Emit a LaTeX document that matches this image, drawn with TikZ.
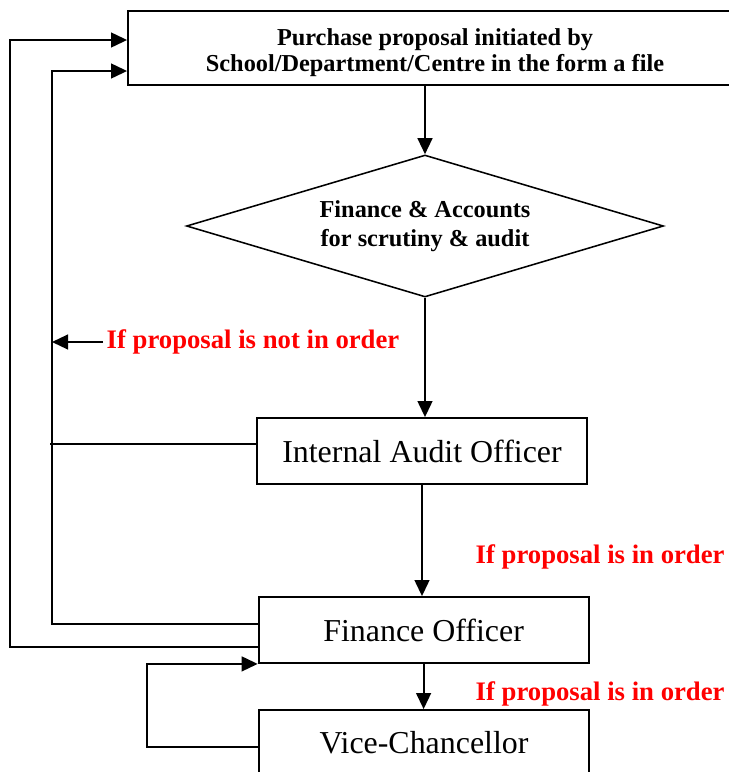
\documentclass[tikz,border=0pt]{standalone}
\usepackage{fontspec}
\setmainfont{Liberation Serif}
\usepackage{xcolor}
\usepackage{tikz}
\usetikzlibrary{positioning,arrows.meta,shapes.geometric,calc}

\begin{document}
\begin{tikzpicture}[
    >={Triangle[length=0.4cm,width=0.37cm]},
    line width=1.3pt,
    office/.style={rectangle, draw, minimum width=8.25cm, minimum height=1.65cm, font=\fontsize{22.7}{26}\selectfont},
    topbox/.style={rectangle, draw, minimum width=15.35cm, minimum height=1.85cm, align=center, font=\fontsize{17.3}{18.5}\selectfont\bfseries},
    decision/.style={diamond, draw, line width=1.1pt, aspect=3.36, minimum width=11.925cm, minimum height=3.55cm, inner sep=0pt, align=center, font=\fontsize{17.3}{20.5}\selectfont\bfseries},
    note/.style={font=\fontsize{19}{22}\selectfont\bfseries, text=red, inner sep=2pt, anchor=west}
]
\useasboundingbox (0,0) rectangle (18.2,-19.3);

% === Main column ===
\node[topbox] (top) at (10.875, -1.2) {\rule{0pt}{19pt}Purchase proposal initiated by\\School/Department/Centre in the form a file};
\node[decision] (dia) at (10.625, -5.65) {Finance \& Accounts\\for scrutiny \& audit};
\node[office] (iao) at (10.55, -11.275) {Internal Audit Officer};
\node[office] (fo) at (10.59, -15.75) {Finance Officer};
\node[office] (vc) at (10.6, -18.575) {Vice-Chancellor};

% Arrows down the column
\draw[->] (top.south -| dia.north) -- (dia.north);
\draw[->] (dia.south) -- (dia.south |- iao.north);
\draw[->] (iao.south) -- (iao.south |- fo.north);
\draw[->] (fo.south) -- (fo.south |- vc.north);

% === Labels ===
\node[note] (notok) at (2.575, -8.55) {If proposal is not in order};
\node[note] (ok1) at (11.8, -13.925) {If proposal is in order};
\node[note] (ok2) at (11.8, -17.35) {If proposal is in order};

% === Return lines to the proposal ===
\coordinate (outerTop) at (0.25, -1.0);
\coordinate (innerTop) at (1.3, -1.775);
\coordinate (loopX) at (3.675, 0);

\draw[->] ([yshift=-0.425cm]fo.west) -| (outerTop) -- (outerTop -| top.west);
\draw[->] ([yshift=0.15cm]fo.west) -| (innerTop) -- (innerTop -| top.west);
\draw ([yshift=0.175cm]iao.west) -- ++(-5.15, 0);
\draw[->] (notok.west) -- (notok.west -| innerTop);

% Loop from Vice-Chancellor back to Finance Officer
\draw[->] ([yshift=-0.1cm]vc.west) -| (loopX |- fo.south west) -- (fo.south west);

\end{tikzpicture}
\end{document}
